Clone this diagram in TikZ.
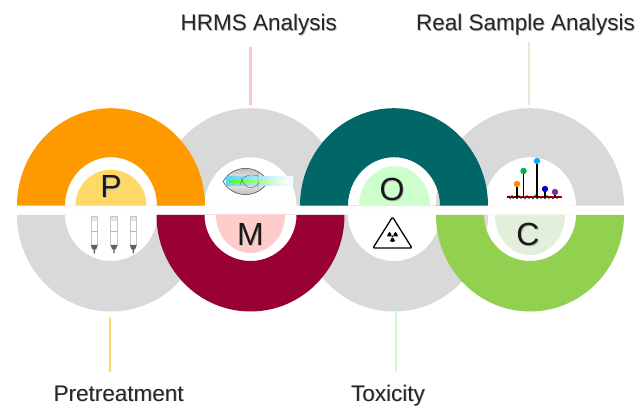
\documentclass[tikz,border=0pt]{standalone}
\usepackage{fontspec}
\setmainfont{Liberation Sans}
\definecolor{ringgrey}{HTML}{D9D9D9}
\definecolor{porange}{HTML}{FF9900}
\definecolor{mmaroon}{HTML}{990033}
\definecolor{oteal}{HTML}{006666}
\definecolor{cgreen}{HTML}{92D050}
\definecolor{pcap}{HTML}{FFD966}
\definecolor{mcap}{HTML}{FFCCCC}
\definecolor{ocap}{HTML}{CCFFCC}
\definecolor{ccap}{HTML}{E2EFDA}
\definecolor{pinkline}{HTML}{F6C9C9}
\definecolor{paleline}{HTML}{DCEFD4}
\definecolor{specorange}{HTML}{FF8C00}
\definecolor{specgreen}{HTML}{00B050}
\definecolor{speccyan}{HTML}{00B0F0}
\definecolor{specblue}{HTML}{0000CC}
\definecolor{specpurple}{HTML}{7030A0}

% text with a soft drop shadow
\newcommand\softshadow[2][0.8pt]{\makebox[0pt][l]{\hspace{#1}\raisebox{-#1}{\color{black!30}#2}}#2}

% upper and lower half rings: #1 = centre x, #2 = colour
\newcommand\upperring[2]{%
  \begin{scope}[xshift=#1pt]
    \fill[#2,even odd rule]
      (-94,201.3) arc[start angle=180,end angle=0,x radius=94pt,y radius=97.5pt] -- cycle
      (-46,201.3) arc[start angle=180,end angle=0,x radius=46pt,y radius=48.5pt] -- cycle;
  \end{scope}}
\newcommand\lowerring[2]{%
  \begin{scope}[xshift=#1pt]
    \fill[#2,even odd rule]
      (-94,192) arc[start angle=180,end angle=360,x radius=94pt,y radius=96.5pt] -- cycle
      (-46,192) arc[start angle=180,end angle=360,x radius=46pt,y radius=46pt] -- cycle;
  \end{scope}}
% inner caps: #1 = centre x, #2 = colour, #3 = x radius, #4 = y radius
\newcommand\uppercap[4]{%
  \fill[#2] (#1-#3,201.3) arc[start angle=180,end angle=0,x radius=#3pt,y radius=#4pt] -- cycle;}
\newcommand\lowercap[4]{%
  \fill[#2] (#1-#3,192) arc[start angle=180,end angle=360,x radius=#3pt,y radius=#4pt] -- cycle;}

\tikzset{
  letter/.style={font=\fontsize{32}{32}\selectfont, text=black!90, inner sep=0pt},
  stagelabel/.style={font=\fontsize{22.5}{24}\selectfont, text=black!85, inner sep=0pt, anchor=base},
  leader/.style={line width=2.6pt},
  stick/.style={black, line width=1.1pt},
}

\begin{document}
\begin{tikzpicture}[x=1pt,y=1pt]
\useasboundingbox (0,0) rectangle (639,407);
\fill[white] (0,0) rectangle (639,407);

% grey half rings underneath
\lowerring{111}{ringgrey}
\upperring{250.5}{ringgrey}
\lowerring{394}{ringgrey}
\upperring{530}{ringgrey}
% coloured half rings on top
\upperring{111}{porange}
\lowerring{250.5}{mmaroon}
\upperring{394}{oteal}
\lowerring{530}{cgreen}

% inner caps
\uppercap{111}{pcap}{35.5}{36}
\lowercap{250.5}{mcap}{34.5}{38}
\uppercap{394.5}{ocap}{35.5}{39.5}
\lowercap{530}{ccap}{35}{40}

% letters
\node[letter] (P) at (111,220.3) {\softshadow{P}};
\node[letter] (M) at (250.5,172) {\softshadow{M}};
\node[letter] (O) at (392,217) {\softshadow{O}};
\node[letter] (C) at (528,172) {\softshadow{C}};

% syringes
\foreach \sx in {94.3,114,133.3}{
  \begin{scope}[xshift=\sx pt]
    \draw[gray!45, fill=white, line width=0.6pt] (-3.3,162) rectangle (3.3,190.5);
    \fill[gray!20] (-2.6,185.5) rectangle (2.6,190);
    \draw[gray!55, line width=0.5pt] (-3.3,176) -- (3.3,176);
    \fill[gray!75!black] (-3.4,162) -- (3.4,162) -- (1.9,157.5) -- (0.7,157.5) -- (0.7,153.5)
      -- (-0.7,153.5) -- (-0.7,157.5) -- (-1.9,157.5) -- cycle;
  \end{scope}}

% HRMS analyser
\shade[top color=gray!65, bottom color=gray!65, middle color=gray!10]
  (223,225.5) .. controls (233,243) and (258,243) .. (268,225.5)
  .. controls (258,208) and (233,208) .. (223,225.5) -- cycle;
\draw[gray!50!black, line width=0.5pt]
  (223,225.5) .. controls (233,243) and (258,243) .. (268,225.5)
  .. controls (258,208) and (233,208) .. (223,225.5) -- cycle;
\shade[left color=cyan!75!blue!70, right color=white, opacity=0.9] (226,221) rectangle (293,230);
\shade[left color=green!70!yellow, right color=white, opacity=0.9] (229,224.2) rectangle (288,226.8);
\draw[black!65, line width=0.35pt] (240,222) .. controls (242,233) and (252,233) .. (258,231)
  (258,235) -- (258,218) (241,229) .. controls (246,216) and (254,218) .. (259,224);

% toxicity sign
\draw[black, line width=1.3pt, line join=round, rounded corners=1.2pt]
  (392.5,190) -- (412,159) -- (373,159) -- cycle;
\foreach \a in {30,150,270}
  \fill[black] (392.5,170.5) -- ++(\a-30:5.4) arc[start angle=\a-30,end angle=\a+30,radius=5.4pt] -- cycle;
\fill[white] (392.5,170.5) circle[radius=1.9pt];
\fill[black] (392.5,170.5) circle[radius=1.1pt];

% mass spectrum
\draw[red!85!black, line width=1.3pt] (507,210) -- (562,210);
\draw[black, line width=0.45pt] (507,209) -- (509,211) -- (510,208) -- (512,212) -- (513,208.5)
  -- (515,210.5) -- (517,208) -- (519,211.5) -- (521,208.5) -- (523,210.5) -- (525,208)
  -- (527,211.5) -- (529,208.5) -- (531,210.5) -- (533,208) -- (535,212) -- (537,208)
  -- (539,211) -- (541,208.5) -- (543,210.5) -- (545,208) -- (547,211.5) -- (549,208.5)
  -- (551,210.5) -- (553,208) -- (555,211) -- (557,208.5) -- (559,210.5) -- (561,209);
\draw[stick] (517,209) -- (517,223);
\draw[stick] (523.5,209) -- (523.5,236);
\draw[stick] (537,209) -- (537,246);
\draw[stick] (545,209) -- (545,218);
\draw[stick] (555,209) -- (555,215);
\fill[specorange] (517,223) circle[radius=3.2pt];
\fill[specgreen] (523.5,236) circle[radius=3.2pt];
\fill[speccyan] (537,246) circle[radius=3.2pt];
\fill[specblue] (545,218) circle[radius=3.2pt];
\fill[specpurple] (555,215) circle[radius=3.2pt];

% stage labels and their leaders
\node[stagelabel] (hrms) at (258.7,376) {\softshadow[0.7pt]{HRMS Analysis}};
\node[stagelabel] (real) at (525.5,376) {\softshadow[0.7pt]{Real Sample Analysis}};
\node[stagelabel] (pre) at (118.7,6) {\softshadow[0.7pt]{Pretreatment}};
\node[stagelabel] (tox) at (388,6) {\softshadow[0.7pt]{Toxicity}};

\coordinate (hrmstop) at (250.5,360);
\coordinate (hrmsfoot) at (250.5,302);
\coordinate (realtop) at (529,365);
\coordinate (realfoot) at (529,302);
\coordinate (pretop) at (110,90);
\coordinate (prefoot) at (110,35);
\coordinate (toxtop) at (396,95);
\coordinate (toxfoot) at (396,35);
\draw[leader, pinkline] (hrmstop) -- (hrmsfoot);
\draw[leader, paleline] (realtop) -- (realfoot);
\draw[leader, pcap] (pretop) -- (prefoot);
\draw[leader, ocap] (toxtop) -- (toxfoot);
\end{tikzpicture}
\end{document}
